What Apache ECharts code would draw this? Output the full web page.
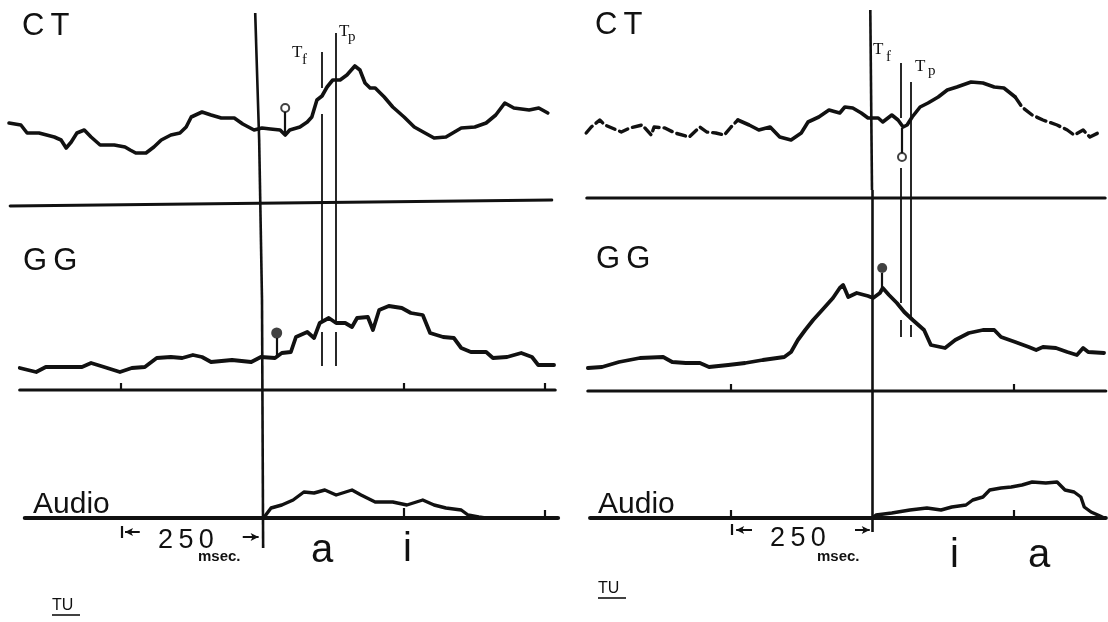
<!DOCTYPE html>
<html><head><meta charset="utf-8">
<script src="https://cdn.jsdelivr.net/npm/echarts/dist/echarts.min.js"></script>
<style>html,body{margin:0;padding:0;background:#fff}#c{width:1108px;height:622px}</style>
</head><body><div id="c"></div>
<script>
// ---- data: [time in ms relative to onset, amplitude above trace baseline] ----
const leftCT = [[-447,80],[-426,78],[-415,70],[-394,70],[-367,66],[-355,63],[-346,55],[-337,61],[-327,70],[-314,73],[-302,66],[-286,58],[-261,58],[-242,56],[-233,53],[-223,50],[-205,50],[-191,56],[-178,63],[-161,68],[-145,70],[-134,76],[-125,86],[-106,91],[-90,88],[-72,85],[-49,85],[-34,79],[-14,73],[0,75],[15,74],[32,73],[41,68],[49,73],[67,76],[80,81],[88,86],[97,103],[106,107],[115,116],[125,123],[138,123],[150,128],[164,137],[173,133],[182,120],[191,115],[200,115],[216,106],[231,96],[251,86],[269,76],[288,70],[304,65],[325,66],[352,75],[376,76],[396,80],[413,88],[429,100],[445,95],[472,93],[489,95],[505,90]];
const leftGG = [[-428,22],[-399,18],[-382,23],[-318,23],[-302,27],[-279,23],[-251,18],[-230,22],[-207,23],[-186,32],[-161,33],[-141,32],[-122,35],[-106,33],[-90,28],[-53,30],[-19,28],[-2,33],[23,32],[35,37],[51,38],[60,53],[80,58],[92,52],[102,67],[118,72],[131,67],[147,67],[159,63],[168,72],[187,73],[196,60],[207,80],[224,84],[247,82],[263,77],[284,75],[297,57],[320,53],[339,52],[352,42],[369,38],[396,38],[408,32],[433,33],[458,37],[477,33],[488,25],[516,25]];
const leftAudio = [[0,0],[4,1],[16,10],[35,13],[55,18],[74,26],[92,25],[111,28],[131,23],[159,28],[175,23],[200,16],[231,16],[256,13],[284,18],[304,13],[325,10],[352,8],[364,3],[383,1],[395,0]];

const rightCT = [[-505,65],[-496,71],[-481,78],[-472,73],[-443,66],[-428,70],[-406,73],[-390,63],[-385,71],[-366,70],[-348,65],[-323,61],[-304,71],[-292,66],[-276,65],[-261,63],[-249,71],[-237,78],[-217,73],[-200,68],[-180,71],[-163,61],[-143,58],[-125,65],[-113,76],[-94,81],[-76,88],[-57,85],[-48,91],[-34,90],[-19,85],[-7,80],[11,80],[19,76],[35,83],[46,78],[55,71],[62,73],[71,81],[85,91],[99,95],[117,101],[133,108],[150,111],[175,116],[196,115],[216,111],[233,110],[253,101],[265,91],[283,83],[302,78],[327,73],[345,68],[357,63],[373,68],[385,61],[403,66]];
const rightGG = [[-502,23],[-477,24],[-447,29],[-410,33],[-369,34],[-353,29],[-329,28],[-304,28],[-288,24],[-254,26],[-224,28],[-193,31],[-155,34],[-143,39],[-131,51],[-118,61],[-104,71],[-88,81],[-69,93],[-57,103],[-51,106],[-42,94],[-27,98],[-7,95],[2,93],[14,98],[19,103],[30,96],[44,88],[57,79],[72,71],[92,61],[104,46],[129,43],[147,51],[171,58],[196,61],[216,61],[228,54],[253,49],[277,44],[290,41],[302,44],[325,43],[345,39],[362,36],[373,43],[382,39],[410,38]];
const rightAudio = [[0,0],[7,3],[35,5],[67,8],[97,10],[122,8],[141,11],[166,13],[178,18],[196,21],[208,28],[228,30],[246,31],[265,33],[283,36],[307,35],[327,36],[341,28],[357,26],[369,21],[375,11],[387,6],[403,2],[410,0]];

// event times (ms)
const leftTf = 105, leftTp = 130;
const rightTf = 51, rightTp = 69;
// markers: [time, amplitude]
const leftOpenCT = [41, 95];     // open circle on CT
const leftFilledGG = [26, 57];   // filled circle on GG
const rightOpenCT = [53, 41];
const rightFilledGG = [18, 123];
// time ticks on baselines (ms)
const leftGGTicks = [-250, 250, 500];
const leftAudioTicks = [250, 500];
const rightGGTicks = [-250, 250];
const rightAudioTicks = [-250, 250];
const scaleBar = [-250, 0];   // "250 msec."

// ---- layout ----
const W = 1108, H = 622, PX = 0.566;
const lv = py => H - py;
const INK = '#111';

const panels = [
  {onset:262, min:-460, max:525, ct:leftCT, gg:leftGG, au:leftAudio,
   ctBase:203, ggBase:390, auBase:518, ctSpan:[-445,512], ctSlant:[206,200],
   ggSpan:[-428,518], auSpan:[-419,523],
   onsetPts:[[-12,13],[-5,140],[0,300],[2,548]],
   tf:leftTf, tp:leftTp, tfSegs:[[52,88],[114,322],[332,366]], tpSegs:[[33,322],[332,366]],
   open:leftOpenCT, openStem:[70,91], filled:leftFilledGG, filledStem:[32,52],
   ggTicks:leftGGTicks, auTicks:leftAudioTicks, auTickH:[10,8],
   bar:{py:[526,538], arrL:[-216,-242,532], arrR:[-34,-6,537]}},
  {onset:872, min:-510, max:415, ct:rightCT, gg:rightGG, au:rightAudio,
   ctBase:198, ggBase:391, auBase:518, ctSpan:[-504,412], ctSlant:[198,198],
   ggSpan:[-502,413], auSpan:[-498,413],
   onsetPts:[[-3,10],[0,190],[0,532]],
   tf:rightTf, tp:rightTp, tfSegs:[[63,118],[168,303],[320,337]], tpSegs:[[82,317],[325,337]],
   open:rightOpenCT, openStem:[70,45], filled:rightFilledGG, filledStem:[103,118],
   ggTicks:rightGGTicks, auTicks:rightAudioTicks, auTickH:[8,8],
   bar:{py:[524,535], arrL:[-212,-240,530], arrR:[-30,-4,530]}}
];

const grids = [], xAxes = [], yAxes = [], series = [];
const baseLine = {color: INK, cap: 'round', join: 'round'};

function lineSeries(gi, data, width, extra) {
  return Object.assign({
    type: 'line', xAxisIndex: gi, yAxisIndex: gi, data: data,
    showSymbol: false, symbol: 'none', silent: true, animation: false,
    lineStyle: Object.assign({width: width}, baseLine),
    itemStyle: {color: INK}, z: 3
  }, extra || {});
}
function segs(list, width, sym) {
  return {
    silent: true, animation: false, symbol: sym || 'none', symbolSize: [6, 8],
    label: {show: false}, emphasis: {disabled: true},
    lineStyle: {color: INK, width: width, type: 'solid', cap: 'butt'},
    data: list
  };
}
function seg(t1, py1, t2, py2) { return [{coord: [t1, lv(py1)]}, {coord: [t2, lv(py2)]}]; }

panels.forEach((p, gi) => {
  grids.push({left: p.onset + p.min * PX, width: (p.max - p.min) * PX, top: 0, height: H});
  xAxes.push({type: 'value', gridIndex: gi, min: p.min, max: p.max, show: false});
  yAxes.push({type: 'value', gridIndex: gi, min: 0, max: H, show: false});

  const ctB = lv(p.ctBase), ggB = lv(p.ggBase), auB = lv(p.auBase);
  const mapT = (arr, b) => arr.map(d => [d[0], b + d[1]]);

  // traces
  if (gi === 1) {
    const ct = mapT(p.ct, ctB);
    const a = ct.filter(d => d[0] <= -237), b = ct.filter(d => d[0] >= -237 && d[0] <= 253), c = ct.filter(d => d[0] >= 253);
    series.push(lineSeries(gi, a, 3.4, {lineStyle: Object.assign({width: 3.4, type: [9, 5]}, baseLine)}));
    series.push(lineSeries(gi, b, 3.6));
    series.push(lineSeries(gi, c, 3.4, {lineStyle: Object.assign({width: 3.4, type: [10, 5]}, baseLine)}));
  } else {
    series.push(lineSeries(gi, mapT(p.ct, ctB), 3.6));
  }
  series.push(lineSeries(gi, mapT(p.gg, ggB), 3.8));
  series.push(lineSeries(gi, mapT(p.au, auB), 3.4));

  // baselines
  series.push(lineSeries(gi, [[p.ctSpan[0], lv(p.ctSlant[0])], [p.ctSpan[1], lv(p.ctSlant[1])]], 3));
  series.push(lineSeries(gi, [[p.ggSpan[0], ggB], [p.ggSpan[1], ggB]], 3.2));
  series.push(lineSeries(gi, [[p.auSpan[0], auB], [p.auSpan[1], auB]], 4.2));

  // onset line
  const on = [];
  for (let i = 0; i < p.onsetPts.length - 1; i++) {
    on.push(seg(p.onsetPts[i][0], p.onsetPts[i][1], p.onsetPts[i+1][0], p.onsetPts[i+1][1]));
  }
  series.push(lineSeries(gi, [], 2.6, {markLine: segs(on, 2.6), z: 4}));

  // Tf / Tp lines
  const tl = [];
  p.tfSegs.forEach(s => tl.push(seg(p.tf, s[0], p.tf, s[1])));
  p.tpSegs.forEach(s => tl.push(seg(p.tp, s[0], p.tp, s[1])));
  series.push(lineSeries(gi, [], 1.8, {markLine: segs(tl, 1.8), z: 4}));

  // ticks + scale bar
  const tk = [];
  p.ggTicks.forEach(t => tk.push(seg(t, p.ggBase, t, p.ggBase - 7)));
  p.auTicks.forEach((t, i) => tk.push(seg(t, p.auBase, t, p.auBase - p.auTickH[i])));
  tk.push(seg(scaleBar[0] + 2, p.bar.py[0], scaleBar[0] + 2, p.bar.py[1]));
  series.push(lineSeries(gi, [], 2.2, {markLine: segs(tk, 2.2), z: 4}));

  // arrows of "250 msec."
  const ar = [seg(p.bar.arrL[0], p.bar.arrL[2], p.bar.arrL[1], p.bar.arrL[2]),
              seg(p.bar.arrR[0], p.bar.arrR[2], p.bar.arrR[1], p.bar.arrR[2])];
  series.push(lineSeries(gi, [], 2, {markLine: segs(ar, 2, ['none', 'arrow']), z: 4}));

  // stems
  const st = [[{coord: [p.open[0], ctB + p.openStem[0]]}, {coord: [p.open[0], ctB + p.openStem[1]]}],
              [{coord: [p.filled[0], ggB + p.filledStem[0]]}, {coord: [p.filled[0], ggB + p.filledStem[1]]}]];
  series.push(lineSeries(gi, [], 2.2, {markLine: segs(st, 2.2), z: 4}));

  // circle markers
  series.push({type: 'scatter', xAxisIndex: gi, yAxisIndex: gi, silent: true, animation: false, z: 6,
    data: [[p.open[0], ctB + p.open[1]]], symbol: 'circle', symbolSize: 8,
    itemStyle: {color: '#fff', borderColor: INK, borderWidth: 2}});
  series.push({type: 'scatter', xAxisIndex: gi, yAxisIndex: gi, silent: true, animation: false, z: 6,
    data: [[p.filled[0], ggB + p.filled[1]]], symbol: 'circle', symbolSize: gi === 0 ? 11 : 10,
    itemStyle: {color: INK}});
});

// ---- texts ----
const SANS = '"Liberation Sans", Arial, sans-serif';
const SERIF = '"Liberation Serif", "Times New Roman", serif';
function txt(str, x, baseline, size, opt) {
  opt = opt || {};
  const fam = opt.serif ? SERIF : SANS;
  return {type: 'text', silent: true, z: 10,
    style: {text: str, x: x, y: baseline - 0.35 * size,
      font: (opt.bold ? 'bold ' : '') + size + 'px ' + fam,
      fill: INK, textAlign: 'left', textVerticalAlign: 'middle', align: 'left', verticalAlign: 'middle'}};
}
function uline(x1, x2, y) {
  return {type: 'line', silent: true, z: 10, shape: {x1: x1, y1: y, x2: x2, y2: y}, style: {stroke: INK, lineWidth: 1.6}};
}
const TS = '\u2009';
const graphics = [
  txt('C' + TS + 'T', 22, 37, 31), txt('C' + TS + 'T', 595, 36, 31),
  txt('G' + TS + 'G', 23, 272, 31), txt('G' + TS + 'G', 596, 270, 31),
  txt('Audio', 33, 515, 30), txt('Audio', 598, 515, 30),
  txt('2' + TS + '5' + TS + '0', 158, 550, 27), txt('2' + TS + '5' + TS + '0', 770, 548, 27),
  txt('msec.', 198, 562, 15, {bold: true}), txt('msec.', 817, 562, 15, {bold: true}),
  txt('a', 311, 565, 40), txt('i', 403, 564, 40),
  txt('i', 950, 570, 40), txt('a', 1028, 570, 40),
  txt('TU', 52, 611, 16), uline(52, 80, 615),
  txt('TU', 598, 594, 16), uline(598, 626, 598),
  txt('T', 292, 58, 17, {serif: true}), txt('f', 302, 65, 15, {serif: true}),
  txt('T', 339, 37, 17, {serif: true}), txt('p', 348, 42, 15, {serif: true}),
  txt('T', 873, 55, 17, {serif: true}), txt('f', 886, 62, 15, {serif: true}),
  txt('T', 915, 72, 17, {serif: true}), txt('p', 928, 76, 15, {serif: true})
];

const chart = echarts.init(document.getElementById('c'), null, {renderer: 'canvas'});
chart.setOption({
  backgroundColor: '#fff', animation: false,
  grid: grids, xAxis: xAxes, yAxis: yAxes, series: series, graphic: graphics
});
</script></body></html>
